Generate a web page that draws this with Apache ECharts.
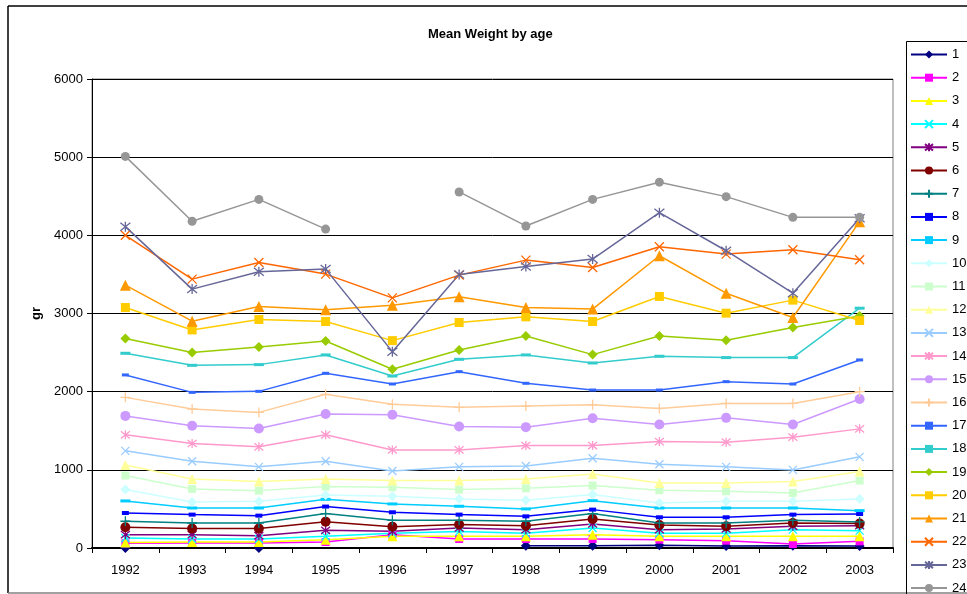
<!DOCTYPE html>
<html>
<head>
<meta charset="utf-8">
<title>Mean Weight by age</title>
<script src="https://cdn.jsdelivr.net/npm/echarts@6/dist/echarts.min.js"></script>
<style>
html, body { margin: 0; padding: 0; background: #fff; }
#main { width: 967px; height: 594px; }
</style>
</head>
<body>
<div id="main"></div>
<script>
// years on the x axis
var years = ['1992', '1993', '1994', '1995', '1996', '1997', '1998', '1999', '2000', '2001', '2002', '2003'];
var yTicks = [0, 1000, 2000, 3000, 4000, 5000, 6000];

// mean weight (gr) per age group
var w1 = [0, null, 0, null, null, null, 30, 30, 35, 25, 30, 25];
var w2 = [60, 64, 64, 77, 170, 115, 115, 115, 107, 94, 51, 85];
var w3 = [70, 77, 77, 107, 150, 150, 150, 170, 150, 150, 150, 150];
var w4 = [128, 115, 115, 150, 190, 210, 190, 256, 190, 190, 235, 222];
var w5 = [170, 170, 158, 226, 213, 256, 235, 307, 235, 243, 278, 286];
var w6 = [265, 248, 248, 337, 273, 300, 286, 371, 295, 278, 320, 312];
var w7 = [342, 320, 320, 440, 354, 354, 342, 440, 320, 320, 354, 333];
var w8 = [448, 427, 414, 530, 457, 427, 405, 491, 393, 393, 427, 435];
var w9 = [602, 512, 512, 623, 564, 534, 500, 606, 512, 512, 512, 478];
var w10 = [747, 589, 598, 679, 662, 628, 611, 683, 576, 598, 598, 628];
var w11 = [927, 756, 734, 786, 777, 747, 764, 798, 739, 726, 705, 863];
var w12 = [1063, 884, 850, 884, 863, 863, 884, 948, 833, 833, 850, 978];
var w13 = [1243, 1110, 1038, 1110, 986, 1038, 1050, 1149, 1072, 1038, 999, 1166];
var w14 = [1448, 1337, 1294, 1448, 1255, 1255, 1311, 1311, 1362, 1354, 1418, 1524];
var w15 = [1690, 1563, 1529, 1715, 1704, 1554, 1546, 1661, 1580, 1665, 1580, 1906];
var w16 = [1927, 1778, 1735, 1966, 1838, 1800, 1816, 1833, 1786, 1850, 1850, 2000];
var w17 = [2214, 1991, 2004, 2235, 2098, 2256, 2107, 2021, 2021, 2128, 2098, 2406];
var w18 = [2491, 2337, 2346, 2470, 2200, 2414, 2470, 2367, 2453, 2436, 2436, 3068];
var w19 = [2679, 2500, 2572, 2649, 2286, 2534, 2713, 2474, 2713, 2658, 2820, 2969];
var w20 = [3077, 2790, 2923, 2898, 2653, 2885, 2957, 2898, 3218, 3004, 3171, 2910];
var w21 = [3363, 2902, 3090, 3047, 3107, 3213, 3077, 3056, 3739, 3260, 2949, 4175];
var w22 = [4000, 3440, 3653, 3504, 3200, 3491, 3683, 3589, 3854, 3760, 3815, 3687];
var w23 = [4111, 3312, 3534, 3568, 2512, 3500, 3602, 3696, 4290, 3803, 3260, 4218];
var w24 = [5010, 4180, 4460, 4080, null, 4555, 4120, 4460, 4680, 4495, 4230, 4230];

var allData = [w1, w2, w3, w4, w5, w6, w7, w8, w9, w10, w11, w12,
               w13, w14, w15, w16, w17, w18, w19, w20, w21, w22, w23, w24];

var colors = ['#000080', '#FF00FF', '#FFFF00', '#00FFFF', '#800080', '#800000', '#008080', '#0000FF',
              '#00CCFF', '#CCFFFF', '#CCFFCC', '#FFFF99', '#99CCFF', '#FF99CC', '#CC99FF', '#FFCC99',
              '#3366FF', '#33CCCC', '#99CC00', '#FFCC00', '#FF9900', '#FF6600', '#666699', '#969696'];

// excel-like markers
var X_MARK = 'path://M0,0L10,10M10,0L0,10';
var STAR_MARK = 'path://M0,1L10,9M10,1L0,9M5,0L5,10';
var PLUS_MARK = 'path://M5,0L5,10M0,5L10,5';
var markers = [
	['diamond', 10, false], ['rect', 8, false], ['triangle', 10, false], [X_MARK, 8, true],
	[STAR_MARK, 9, true], ['circle', 10, false], [PLUS_MARK, 10, true], ['rect', [7, 4], false],
	['rect', [10, 3], false], ['diamond', 10, false], ['rect', 8, false], ['triangle', 10, false],
	[X_MARK, 8, true], [STAR_MARK, 9, true], ['circle', 10, false], [PLUS_MARK, 10, true],
	['rect', [7, 3], false], ['rect', [10, 3], false], ['diamond', 10, false], ['rect', 9, false],
	['triangle', 11, false], [X_MARK, 9, true], [STAR_MARK, 10, true], ['circle', 9, false]
];

var series = [];
for (var i = 0; i < allData.length; i++) {
	var m = markers[i];
	series.push({
		name: String(i + 1),
		type: 'line',
		data: allData[i],
		symbol: m[0],
		symbolSize: m[1],
		showAllSymbol: true,
		connectNulls: false,
		animation: false,
		lineStyle: { color: colors[i], width: 1.5 },
		itemStyle: {
			color: m[2] ? 'rgba(0,0,0,0)' : colors[i],
			borderColor: colors[i],
			borderWidth: m[2] ? 1.3 : 0
		}
	});
}

var myChart = echarts.init(document.getElementById('main'));
var option = {
	backgroundColor: '#fff',
	animation: false,
	textStyle: { fontFamily: 'Liberation Sans, Arial, sans-serif' },
	title: {
		text: 'Mean Weight by age',
		left: 423,
		top: 23,
		textStyle: { fontSize: 13, fontWeight: 'bold', color: '#000', fontFamily: 'Liberation Sans, Arial, sans-serif' }
	},
	legend: {
		orient: 'vertical',
		left: 910,
		top: 48,
		height: 600,
		padding: 0,
		itemWidth: 36,
		itemHeight: 10,
		itemGap: 10.2,
		selectedMode: false,
		data: series.map(function (s) { return s.name; }),
		textStyle: { fontSize: 13, color: '#000', padding: [0, 0, 0, 0] }
	},
	grid: {
		left: 92,
		right: 74,
		top: 79,
		bottom: 46,
		show: true,
		borderColor: '#808080',
		borderWidth: 1
	},
	xAxis: {
		type: 'category',
		data: years,
		boundaryGap: true,
		axisLine: { lineStyle: { color: '#000', width: 2 } },
		axisTick: { show: true, length: 5, lineStyle: { color: '#000' } },
		axisLabel: { color: '#000', fontSize: 13, margin: 16 },
		splitLine: { show: false }
	},
	yAxis: {
		type: 'value',
		min: yTicks[0],
		max: yTicks[yTicks.length - 1],
		interval: 1000,
		name: 'gr',
		nameLocation: 'middle',
		nameRotate: 90,
		nameGap: 44,
		nameTextStyle: { fontSize: 13, fontWeight: 'bold', color: '#000' },
		axisLine: { show: true, lineStyle: { color: '#000', width: 1 } },
		axisTick: { show: true, length: 5, lineStyle: { color: '#000' } },
		axisLabel: {
			color: '#000', fontSize: 13, margin: 9,
			formatter: function (v) { return String(v); }
		},
		splitLine: { show: true, lineStyle: { color: '#000', width: 1 } }
	},
	graphic: [
		{ type: 'line', shape: { x1: 8, y1: 6, x2: 967, y2: 6 }, style: { stroke: '#000', lineWidth: 1.5 } },
		{ type: 'line', shape: { x1: 8, y1: 6, x2: 8, y2: 593 }, style: { stroke: '#000', lineWidth: 1.5 } },
		{ type: 'line', shape: { x1: 8, y1: 593, x2: 967, y2: 593 }, style: { stroke: '#808080', lineWidth: 1.5 } },
		{ type: 'rect', shape: { x: 906.5, y: 41.5, width: 100, height: 600 }, style: { fill: null, stroke: '#000', lineWidth: 1 } }
	],
	series: series
};
myChart.setOption(option);
</script>
</body>
</html>
